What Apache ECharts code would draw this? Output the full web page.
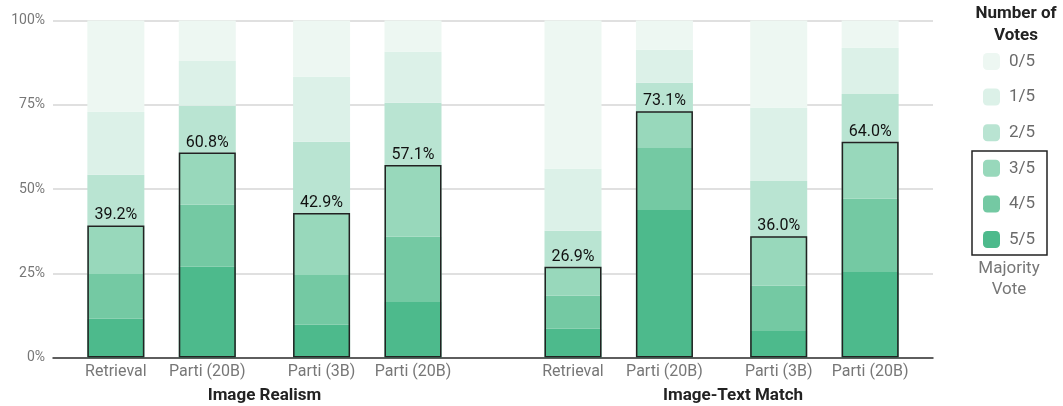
<!DOCTYPE html>
<html>
<head>
<meta charset="utf-8">
<script src="https://cdn.jsdelivr.net/npm/echarts@6/dist/echarts.min.js"></script>
<style>
  html, body { margin: 0; padding: 0; background: #fff; }
  #main { width: 1063px; height: 406px; }
</style>
</head>
<body>
<div id="main"></div>
<script>
// data (percent of ratings per number of votes)
const groups = ["Image Realism", "Image-Text Match"];
const models = ["Retrieval", "Parti (20B)", "Parti (3B)", "Parti (20B)",
                "Retrieval", "Parti (20B)", "Parti (3B)", "Parti (20B)"];
const votes = ["5/5", "4/5", "3/5", "2/5", "1/5", "0/5"];
const v55 = [11.5, 26.9, 9.7, 16.5, 8.5, 43.8, 7.9, 25.4];
const v45 = [13.3, 18.4, 14.8, 19.3, 9.8, 18.4, 13.4, 21.7];
const v35 = [14.4, 15.5, 18.4, 21.3, 8.6, 10.9, 14.7, 16.9];
const v25 = [15.0, 13.9, 21.1, 18.5, 10.7, 8.4, 16.4, 14.2];
const v15 = [18.7, 13.3, 19.3, 15.1, 18.4, 9.8, 21.7, 13.7];
const v05 = [27.1, 12.0, 16.7, 9.3, 44.0, 8.7, 25.9, 8.1];
const majority = [39.2, 60.8, 42.9, 57.1, 26.9, 73.1, 36.0, 64.0];
const yTicks = [0, 25, 50, 75, 100];

// layout: bars sit on a fine category axis with blank spacer slots
const nSlots = 77;
const barSlots = [5, 13, 23, 31, 45, 53, 63, 71];
const groupSlots = [18, 59];
const colors = ["#4dba8c", "#74c9a3", "#98d8bb", "#b9e4d2", "#dcf1e8", "#edf7f2"];

const blank = () => new Array(nSlots).fill("");
const modelCats = blank();
barSlots.forEach((s, i) => { modelCats[s] = models[i]; });
const groupCats = blank();
groupSlots.forEach((s, i) => { groupCats[s] = groups[i]; });

function spread(values) {
  const arr = new Array(nSlots).fill("-");
  barSlots.forEach((s, i) => { arr[s] = values[i]; });
  return arr;
}

const segs = [v55, v45, v35, v25, v15, v05];
const series = segs.map((vals, k) => ({
  name: votes[k],
  type: "bar",
  stack: "votes",
  barWidth: 57,
  barGap: "-100%",
  itemStyle: { color: colors[k] },
  emphasis: { disabled: true },
  data: spread(vals),
}));

const majIdx = {};
barSlots.forEach((s, i) => { majIdx[s] = i; });
series.push({
  name: "majority",
  type: "bar",
  barWidth: 57,
  barGap: "-100%",
  z: 5,
  itemStyle: { color: "rgba(0,0,0,0)", borderColor: "#222", borderWidth: 1.5 },
  emphasis: { disabled: true },
  label: {
    show: true,
    position: "top",
    distance: 2,
    color: "#111",
    fontSize: 16,
    fontFamily: "Roboto",
    formatter: (p) => majority[majIdx[p.dataIndex]].toFixed(1) + "%",
  },
  data: spread(majority),
});

const chart = echarts.init(document.getElementById("main"));
chart.setOption({
  animation: false,
  textStyle: { fontFamily: "Roboto" },
  grid: { left: 53, right: 130, top: 20.5, bottom: 48.5 },
  title: {
    text: "Number of\nVotes",
    left: 1016,
    top: 3,
    padding: 0,
    textAlign: "center",
    textStyle: { fontSize: 17, fontWeight: "bold", color: "#222", lineHeight: 22, fontFamily: "Roboto" },
  },
  legend: {
    orient: "vertical",
    left: 983,
    top: 53,
    padding: 0,
    itemWidth: 17,
    itemHeight: 17,
    itemGap: 18.6,
    icon: "roundRect",
    selectedMode: false,
    data: ["0/5", "1/5", "2/5", "3/5", "4/5", "5/5"],
    textStyle: { color: "#6b6b6b", fontSize: 17, padding: [0, 0, 0, 4] },
  },
  graphic: [
    {
      type: "rect",
      shape: { x: 972, y: 151, width: 75, height: 104 },
      style: { fill: "none", stroke: "#222", lineWidth: 1.5 },
    },
    {
      type: "text",
      x: 1009,
      y: 258,
      style: {
        text: "Majority\nVote",
        fill: "#777",
        fontSize: 17,
        lineHeight: 21,
        align: "center",
        textAlign: "center",
        fontFamily: "Roboto",
      },
    },
  ],
  xAxis: [
    {
      type: "category",
      data: modelCats,
      axisLine: { lineStyle: { color: "#333", width: 1.5 } },
      axisTick: { show: false },
      axisLabel: { interval: 0, margin: 6, color: "#777", fontSize: 16 },
    },
    {
      type: "category",
      position: "bottom",
      data: groupCats,
      axisLine: { show: false },
      axisTick: { show: false },
      axisLabel: { interval: 0, margin: 30, color: "#222", fontSize: 17, fontWeight: "bold" },
    },
  ],
  yAxis: {
    type: "value",
    min: yTicks[0],
    max: yTicks[yTicks.length - 1],
    interval: 25,
    axisLine: { show: false },
    axisTick: { show: false },
    axisLabel: { color: "#777", fontSize: 14, margin: 8, formatter: "{value}%" },
    splitLine: { lineStyle: { color: "#d6d6d6", width: 1.5 } },
  },
  series: series,
});
</script>
</body>
</html>
